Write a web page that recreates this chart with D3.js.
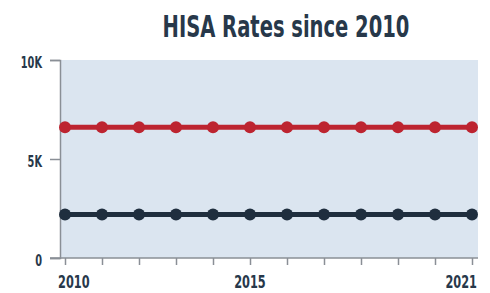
<!DOCTYPE html>
<html>
<head>
<meta charset="utf-8">
<script src="https://cdn.jsdelivr.net/npm/d3@7"></script>
<style>
  html, body { margin: 0; padding: 0; background: #fff; }
  text { font-family: "DejaVu Sans Condensed", "DejaVu Sans", sans-serif; font-weight: bold; }
</style>
</head>
<body>
<div id="chart"></div>
<script>
const years = [2010, 2011, 2012, 2013, 2014, 2015, 2016, 2017, 2018, 2019, 2020, 2021];
const redSeries = [6600, 6600, 6600, 6600, 6600, 6600, 6600, 6600, 6600, 6600, 6600, 6600];
const darkSeries = [2200, 2200, 2200, 2200, 2200, 2200, 2200, 2200, 2200, 2200, 2200, 2200];
const yTicks = [0, 5000, 10000];
const xLabels = [2010, 2015, 2021];

const width = 490;
const height = 293;

const svg = d3.select('#chart')
  .append('svg')
  .attr('width', width)
  .attr('height', height);

const x = d3.scaleLinear().domain([2010, 2021]).range([65, 472]);
const y = d3.scaleLinear().domain([0, 10000]).range([258, 60]);

// squeeze a text horizontally so it looks like a condensed display face
function condense(sel, factor) {
  sel.each(function () {
    const t = d3.select(this);
    const x0 = +t.attr('x') || 0;
    t.attr('x', x0 / factor).attr('transform', `scale(${factor},1)`);
  });
}

// plot background
svg.append('rect')
  .attr('x', 60)
  .attr('y', y(10000))
  .attr('width', 418)
  .attr('height', y(0) - y(10000))
  .attr('fill', '#dbe5f0');

// title
svg.append('g')
  .attr('transform', 'translate(286,37)')
  .append('text')
  .attr('text-anchor', 'middle')
  .attr('fill', '#27384a')
  .style('font-size', '31px')
  .text('HISA Rates since 2010')
  .each(function () {
    const f = 247 / this.getComputedTextLength();
    d3.select(this).attr('transform', `scale(${f},1)`);
  });

// y axis
const yAxis = svg.append('g')
  .attr('transform', 'translate(60,0)')
  .call(d3.axisLeft(y).tickValues(yTicks).tickSize(10).tickPadding(8)
    .tickFormat(d => d === 0 ? '0' : d3.format('~s')(d).replace('k', 'K')));
yAxis.select('.domain').attr('stroke', '#8a8f96').attr('stroke-width', 1.5);
yAxis.selectAll('.tick line').attr('stroke', '#8a8f96').attr('stroke-width', 1.5);
yAxis.selectAll('text')
  .attr('fill', '#27384a')
  .attr('dy', '0.45em')
  .style('font-size', '16px')
  .style('font-family', '"DejaVu Sans Condensed", "DejaVu Sans", sans-serif')
  .style('font-weight', 'bold')
  .call(condense, 0.68);

// x axis
const xAxis = svg.append('g')
  .attr('transform', `translate(0,${y(0)})`)
  .call(d3.axisBottom(x).tickValues(years).tickSize(7).tickFormat(''));
xAxis.select('.domain').remove();
xAxis.append('line')
  .attr('x1', 50).attr('x2', 478)
  .attr('stroke', '#8a8f96').attr('stroke-width', 1.5);
xAxis.selectAll('.tick line').attr('stroke', '#8a8f96').attr('stroke-width', 1.5);

svg.append('g').selectAll('text')
  .data(xLabels)
  .join('text')
  .attr('x', d => d === 2010 ? x(d) - 7 : d === 2021 ? x(d) + 5 : x(d))
  .attr('y', 288)
  .attr('text-anchor', d => d === 2010 ? 'start' : d === 2021 ? 'end' : 'middle')
  .attr('fill', '#27384a')
  .style('font-size', '18px')
  .text(d => d)
  .call(condense, 0.7);

// series
const series = [
  { values: redSeries, colour: '#bd2430' },
  { values: darkSeries, colour: '#1f2e3e' }
];

const line = d3.line()
  .x((d, i) => x(years[i]))
  .y(d => y(d));

series.forEach(s => {
  svg.append('path')
    .datum(s.values)
    .attr('fill', 'none')
    .attr('stroke', s.colour)
    .attr('stroke-width', 5)
    .attr('d', line);

  svg.append('g').selectAll('circle')
    .data(s.values)
    .join('circle')
    .attr('cx', (d, i) => x(years[i]))
    .attr('cy', d => y(d))
    .attr('r', 6)
    .attr('fill', s.colour);
});
</script>
</body>
</html>
